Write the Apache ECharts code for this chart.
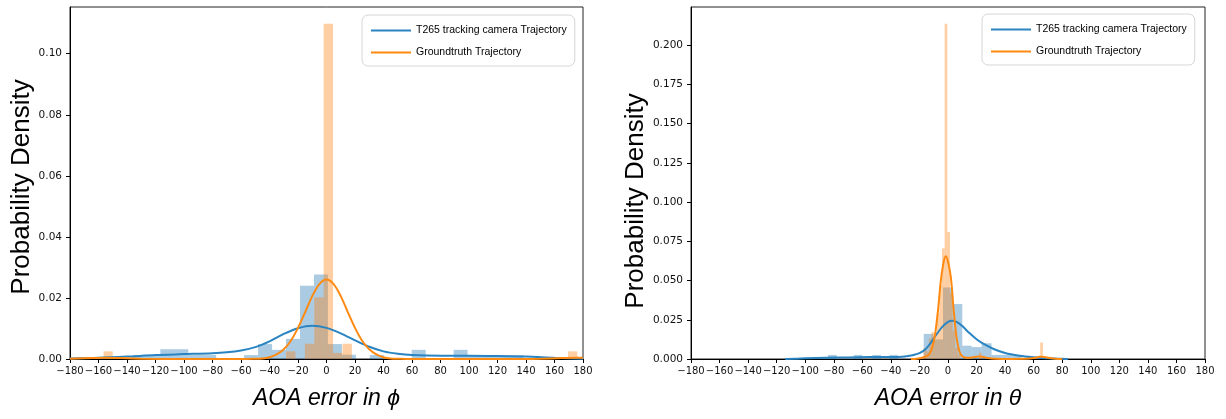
<!DOCTYPE html>
<html>
<head>
<meta charset="utf-8">
<script src="https://cdn.jsdelivr.net/npm/echarts@6/dist/echarts.min.js"></script>
<style>
html,body{margin:0;padding:0;background:#fff;}
#c{width:1226px;height:419px;}
</style>
</head>
<body>
<div id="c"></div>
<script>
// ---------- data ----------
const seriesNames = ['T265 tracking camera Trajectory', 'Groundtruth Trajectory'];
const xAxisTitles = ['AOA error in \u03D5', 'AOA error in \u03B8'];
const yAxisTitle = 'Probability Density';
const phiYTicks = [0, 0.02, 0.04, 0.06, 0.08, 0.10];
const thetaYTicks = [0, 0.025, 0.05, 0.075, 0.1, 0.125, 0.15, 0.175, 0.2];

// histogram bins: [start, end, density]
const phiBlueHist = [
  [-136.2,-126.4,0.0013],[-126.4,-116.6,0.0013],[-116.6,-106.8,0.0032],[-106.8,-97,0.0032],
  [-97,-87.2,0.0013],[-87.2,-77.4,0.0013],[-57.8,-48,0.0013],[-48,-38.2,0.0049],
  [-38.2,-28.4,0.0030],[-28.4,-18.6,0.0066],[-18.6,-8.8,0.0240],[-8.8,1,0.0277],
  [1,10.8,0.0049],[10.8,20.6,0.0014],[30.4,40.2,0.0013],[59.8,69.6,0.0030],
  [89.2,99,0.0030],[99,108.8,0.0013],[108.8,118.6,0.0013],[118.6,128.4,0.0013],[128.4,138.2,0.0013]
];
const phiOrangeHist = [
  [-156.5,-150,0.0025],[-28.4,-21.8,0.0025],[-15.2,-8.6,0.0050],[-8.6,-2,0.0202],
  [-2,4.6,0.1098],[4.6,11.2,0.0020],[11.2,17.8,0.0050],[169.5,176,0.0025]
];
const thetaBlueHist = [
  [-84,-78,0.0026],[-66,-60,0.0026],[-53,-47,0.0026],[-41,-35,0.0026],
  [-17,-10.5,0.0160],[-10.5,-3.5,0.0125],[-3.5,3.5,0.0456],[3.5,10,0.0350],
  [10,16.5,0.0085],[16.5,23.5,0.0076],[23.5,30.5,0.0100],[30.5,37.5,0.0026],
  [37.5,44.5,0.0026],[44.5,51.5,0.0026]
];
const thetaOrangeHist = [
  [-17.15,-15.3,0.007],[-15.3,-13.45,0.005],[-13.45,-11.6,0.013],[-11.6,-9.75,0.017],
  [-9.75,-7.9,0.015],[-7.9,-6.05,0.029],[-6.05,-4.2,0.047],[-4.2,-2.35,0.0705],
  [-2.35,-0.5,0.2136],[-0.5,1.35,0.081],[1.35,3.2,0.042],[3.2,5.05,0.018],
  [5.05,6.9,0.007],[6.9,8.75,0.003],[21.7,23.55,0.004],[64.6,66.45,0.0105]
];

// KDE curves: [x, density]
const phiBlueKde = [
  [-180,0.0002],[-160,0.0004],[-140,0.0008],[-120,0.0013],[-100,0.0016],[-80,0.0019],
  [-70,0.0022],[-60,0.0028],[-50,0.0039],[-40,0.0058],[-30,0.0082],[-20,0.0101],[-10,0.0109],
  [0,0.0102],[10,0.0084],[20,0.0061],[30,0.0040],[40,0.0025],[50,0.0017],[60,0.0013],
  [80,0.0011],[100,0.0011],[120,0.0010],[140,0.0008],[160,0.0004],[180,0.0001]
];
const phiOrangeKde = [
  [-180,0.0001],[-165,0.0003],[-155,0.0004],[-145,0.0003],[-130,0.0001],[-100,0],[-60,0],
  [-50,0.0001],[-45,0.0002],[-40,0.0006],[-35,0.0015],[-30,0.0032],[-25,0.0060],
  [-20,0.0102],[-15,0.0153],[-10,0.0206],[-5,0.0245],[0,0.0260],[5,0.0245],[10,0.0206],
  [15,0.0153],[20,0.0102],[25,0.0060],[30,0.0032],[35,0.0015],[40,0.0006],[45,0.0002],
  [50,0.0001],[60,0],[130,0],[150,0.0001],[165,0.0003],[175,0.0004],[180,0.0004]
];
const thetaBlueKde = [
  [-114,0],[-100,0.0004],[-85,0.0008],[-70,0.0010],[-55,0.0012],[-40,0.0013],[-32,0.0015],
  [-28,0.0019],[-24,0.0026],[-20,0.0037],[-16,0.0060],[-12,0.0104],[-8,0.0158],[-4,0.0205],
  [0,0.0236],[3,0.0244],[6,0.0236],[10,0.0210],[15,0.0165],[20,0.0126],[25,0.0096],
  [32,0.0064],[40,0.0038],[50,0.0021],[60,0.0011],[70,0.0004],[80,0.0001],[84,0]
];
const thetaOrangeKde = [
  [-26,0],[-22,0.0002],[-18,0.0008],[-15,0.0018],[-13,0.0032],[-11,0.0075],[-9,0.0160],
  [-7,0.0310],[-5,0.0500],[-3,0.0620],[-1.5,0.0654],[0,0.0620],[2,0.0520],[4,0.0310],
  [6,0.0135],[8,0.0048],[10,0.0018],[13,0.0008],[17,0.0010],[21,0.0016],[24,0.0015],
  [28,0.0006],[33,0.0001],[40,0],[55,0.0001],[60,0.0006],[64,0.0014],[66,0.0015],
  [70,0.0008],[75,0.0002],[80,0]
];

// ---------- chart ----------
const BLUE = '#2a84c2';
const ORANGE = '#ff8a12';
const BLUE_FILL = 'rgba(31,119,180,0.38)';
const ORANGE_FILL = 'rgba(255,127,14,0.38)';

function histSeries(name, data, idx, fill) {
  return {
    type: 'custom', name: name, xAxisIndex: idx, yAxisIndex: idx, data: data,
    encode: { x: [0, 1], y: 2 }, silent: true, clip: true,
    renderItem: function (params, api) {
      const p0 = api.coord([api.value(0), api.value(2)]);
      const p1 = api.coord([api.value(1), 0]);
      return { type: 'rect',
        shape: { x: p0[0], y: p0[1], width: p1[0] - p0[0], height: p1[1] - p0[1] },
        style: { fill: fill } };
    }
  };
}
function kdeSeries(name, data, idx, color) {
  return {
    type: 'line', name: name, xAxisIndex: idx, yAxisIndex: idx, data: data,
    symbol: 'none', showSymbol: false, smooth: 0.3, silent: true,
    lineStyle: { width: 2, color: color }, itemStyle: { color: color }
  };
}
const tickFont = { fontFamily: 'DejaVu Sans', fontSize: 10, color: '#111' };
function xAxis(idx, title) {
  return {
    type: 'value', gridIndex: idx, min: -180, max: 180, interval: 20,
    axisLine: { show: true, onZero: false, lineStyle: { color: '#000', width: 1 } },
    axisTick: { show: true, length: 4, lineStyle: { color: '#000' } },
    axisLabel: Object.assign({ margin: 7, showMinLabel: true, showMaxLabel: true, hideOverlap: false,
      formatter: v => v < 0 ? '\u2212' + (-v) : String(v) }, tickFont),
    splitLine: { show: false },
    name: title, nameLocation: 'middle', nameGap: 28,
    nameTextStyle: { fontFamily: 'Liberation Sans', fontStyle: 'italic', fontSize: 23, color: '#000' }
  };
}
function yAxis(idx, max, ticks, digits, gap, pad) {
  return {
    type: 'value', gridIndex: idx, min: 0, max: max,
    axisLine: { show: true, onZero: false, lineStyle: { color: '#000', width: 1 } },
    axisTick: { show: true, length: 4, lineStyle: { color: '#000' }, customValues: ticks },
    axisLabel: Object.assign({ margin: 8, customValues: ticks,
      formatter: v => Number(v).toFixed(digits) }, tickFont, { fontSize: 10.5 }),
    splitLine: { show: false },
    name: yAxisTitle, nameLocation: 'middle', nameGap: gap,
    nameTextStyle: { fontFamily: 'Liberation Sans', fontSize: 26, color: '#000', padding: pad }
  };
}
function legend(left, top) {
  return {
    orient: 'vertical', left: left, top: top, padding: [10, 8, 8, 9], itemGap: 11,
    itemWidth: 40, itemHeight: 2, icon: 'rect', selectedMode: false,
    backgroundColor: '#fff', borderColor: '#d6d6d6', borderWidth: 1, borderRadius: 6,
    textStyle: { fontFamily: 'Liberation Sans', fontSize: 10.5, color: '#000' },
    data: seriesNames
  };
}

const chart = echarts.init(document.getElementById('c'), null, { renderer: 'canvas' });
chart.setOption({
  backgroundColor: '#fff',
  animation: false,
  grid: [
    { left: 70, top: 7, width: 513, height: 352, show: true, borderColor: '#222', borderWidth: 1, backgroundColor: 'transparent' },
    { left: 691, top: 7, width: 514, height: 352, show: true, borderColor: '#222', borderWidth: 1, backgroundColor: 'transparent' }
  ],
  xAxis: [xAxis(0, xAxisTitles[0]), xAxis(1, xAxisTitles[1])],
  yAxis: [
    yAxis(0, 0.1153, phiYTicks, 2, 35, [0, 8, 0, 0]),
    yAxis(1, 0.2243, thetaYTicks, 3, 42, [0, 36, 0, 0])
  ],
  legend: [legend(362, 15), legend(982, 14)],
  series: [
    histSeries('phiBlueHist', phiBlueHist, 0, BLUE_FILL),
    kdeSeries(seriesNames[0], phiBlueKde, 0, BLUE),
    histSeries('phiOrangeHist', phiOrangeHist, 0, ORANGE_FILL),
    kdeSeries(seriesNames[1], phiOrangeKde, 0, ORANGE),
    histSeries('thetaBlueHist', thetaBlueHist, 1, BLUE_FILL),
    kdeSeries(seriesNames[0], thetaBlueKde, 1, BLUE),
    histSeries('thetaOrangeHist', thetaOrangeHist, 1, ORANGE_FILL),
    kdeSeries(seriesNames[1], thetaOrangeKde, 1, ORANGE)
  ]
});
</script>
</body>
</html>
